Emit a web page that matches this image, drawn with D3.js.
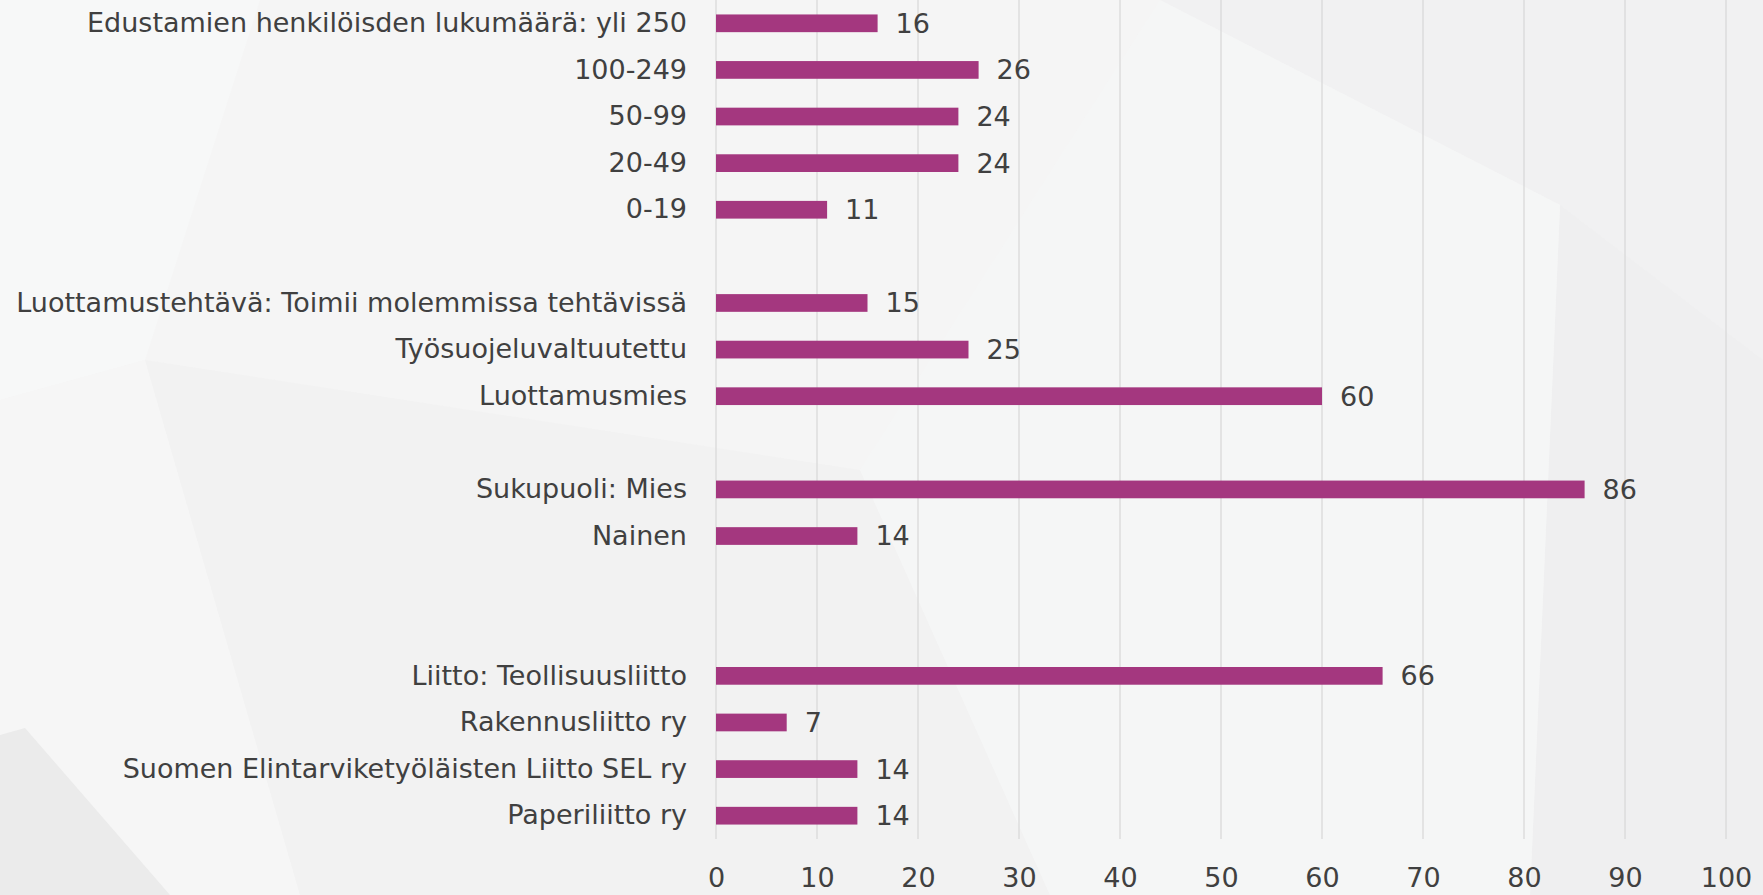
<!DOCTYPE html>
<html>
<head>
<meta charset="utf-8">
<script src="https://cdn.jsdelivr.net/npm/d3@7"></script>
<style>
  html, body { margin: 0; padding: 0; }
  body { width: 1763px; height: 895px; overflow: hidden; background: #f4f4f4; }
  text { font-family: "DejaVu Sans", "Liberation Sans", Arial, sans-serif; fill: #404040; }
</style>
</head>
<body>
<script>
// categories top to bottom, "" = empty slot between groups
const categories = [
    "Edustamien henkilöisden lukumäärä: yli 250", "100-249", "50-99", "20-49", "0-19",
    "",
    "Luottamustehtävä: Toimii molemmissa tehtävissä", "Työsuojeluvaltuutettu", "Luottamusmies",
    "",
    "Sukupuoli: Mies", "Nainen",
    "", "",
    "Liitto: Teollisuusliitto", "Rakennusliitto ry", "Suomen Elintarviketyöläisten Liitto SEL ry", "Paperiliitto ry"
];
const values = [16, 26, 24, 24, 11, null, 15, 25, 60, null, 86, 14, null, null, 66, 7, 14, 14];
const xTicks = [0, 10, 20, 30, 40, 50, 60, 70, 80, 90, 100];

const w = 1763;
const h = 895;

const svg = d3.select("body").append("svg")
    .attr("width", w)
    .attr("height", h);

// faint geometric background
const bg = svg.append("g");
bg.append("rect").attr("width", w).attr("height", h).attr("fill", "#f4f4f4");
const shapes = [
    { pts: [[0, 0], [1160, 0], [860, 470], [145, 360], [0, 400]], c: "#f5f5f5" },
    { pts: [[0, 0], [260, 0], [145, 360], [0, 400]], c: "#f7f8f8" },
    { pts: [[0, 400], [145, 360], [300, 895], [0, 895]], c: "#f6f6f6" },
    { pts: [[0, 735], [25, 728], [170, 895], [0, 895]], c: "#ebebeb" },
    { pts: [[145, 360], [860, 470], [1050, 895], [300, 895]], c: "#f2f2f2" },
    { pts: [[1160, 0], [1763, 0], [1763, 360], [1560, 205]], c: "#f1f1f2" },
    { pts: [[1560, 205], [1763, 360], [1763, 895], [1530, 895]], c: "#efeff0" },
    { pts: [[1160, 0], [1560, 205], [1530, 895], [1050, 895], [860, 470]], c: "#f5f6f6" }
];
bg.selectAll("polygon").data(shapes).enter().append("polygon")
    .attr("points", d => d.pts.map(p => p.join(",")).join(" "))
    .attr("fill", d => d.c);

const x = d3.scaleLinear().domain([0, 100]).range([716, 1726]);
const y = d3.scaleBand()
    .domain(categories.map((d, i) => i))
    .range([0, 839])
    .paddingInner(0.62)
    .paddingOuter(0.31);

// gridlines
svg.append("g").selectAll("line").data(xTicks).enter().append("line")
    .attr("x1", d => x(d)).attr("x2", d => x(d))
    .attr("y1", 0).attr("y2", 839)
    .attr("stroke", "#d9d9d9").attr("stroke-width", 1.3);

// x axis labels
const xAxis = d3.axisBottom(x).tickValues(xTicks).tickSize(0).tickPadding(0);
const gx = svg.append("g").attr("transform", "translate(0, 868)").call(xAxis);
gx.select(".domain").remove();
gx.selectAll("text")
    .attr("font-size", 27)
    .attr("dy", "0.71em")
    .attr("y", 0)
    .attr("font-family", null);

// category labels
const yAxis = d3.axisLeft(y).tickFormat(i => categories[i]).tickSize(0).tickPadding(0);
const gy = svg.append("g").attr("transform", "translate(687, 0)").call(yAxis);
gy.select(".domain").remove();
gy.selectAll("text").attr("font-size", 27).attr("font-family", null);

const rows = categories.map((c, i) => ({ i, v: values[i] })).filter(d => d.v != null);

svg.append("g").selectAll("rect").data(rows).enter().append("rect")
    .attr("x", x(0))
    .attr("y", d => y(d.i))
    .attr("width", d => x(d.v) - x(0))
    .attr("height", y.bandwidth())
    .attr("fill", "#a4377f");

svg.append("g").selectAll("text").data(rows).enter().append("text")
    .attr("x", d => x(d.v) + 18)
    .attr("y", d => y(d.i) + y.bandwidth() / 2)
    .attr("dy", "0.35em")
    .attr("font-size", 27)
    .text(d => d.v);
</script>
</body>
</html>
